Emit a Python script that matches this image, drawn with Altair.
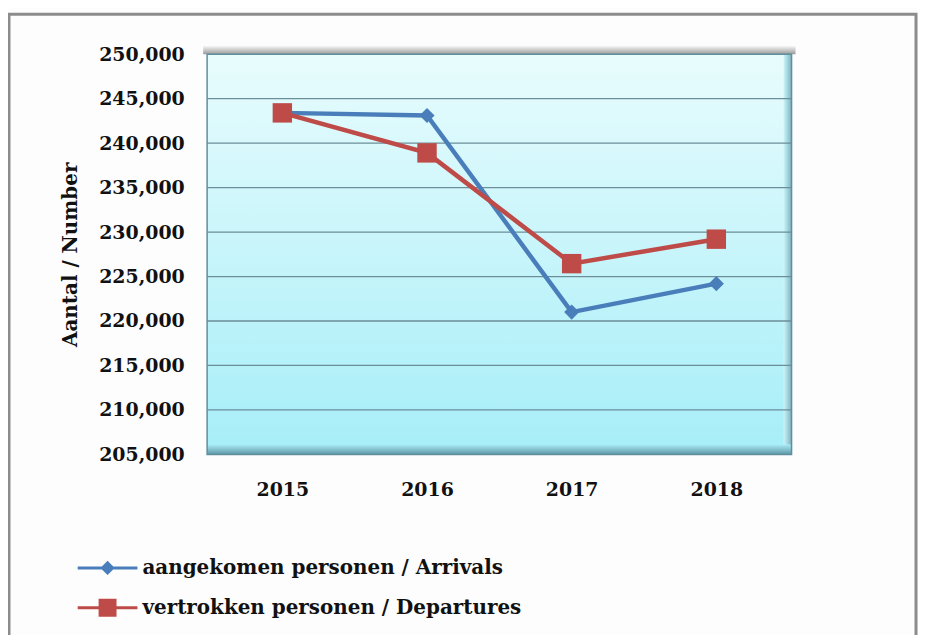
import altair as alt
import pandas as pd

years = ["2015", "2016", "2017", "2018"]
arrivals = [243400, 243100, 221000, 224200]
departures = [243400, 238900, 226450, 229200]
series_names = ["aangekomen personen / Arrivals", "vertrokken personen / Departures"]
y_ticks = [205000, 210000, 215000, 220000, 225000, 230000, 235000, 240000, 245000, 250000]

rows = []
for y, a, d in zip(years, arrivals, departures):
    rows.append({"year": y, "value": a, "series": series_names[0]})
    rows.append({"year": y, "value": d, "series": series_names[1]})
df = pd.DataFrame(rows)
grid_df = pd.DataFrame({"value": y_ticks[1:-1]})

BLUE = "#4a7ebb"
RED = "#be4b48"
FONT = "DejaVu Serif"

W, H = 587, 402

color_scale = alt.Scale(domain=series_names, range=[BLUE, RED])
y_scale = alt.Scale(domain=[205000, 250000], nice=False, zero=False)
x_scale = alt.Scale(type="point", padding=0.52)
legend_paths = [
    "M-1,-0.05H1V0.05H-1Z M-0.24,0L0,-0.24L0.24,0L0,0.24Z",
    "M-1,-0.05H1V0.05H-1Z M-0.3,-0.3H0.3V0.3H-0.3Z",
]

x_enc = alt.X("year:O", sort=years, title=None, scale=x_scale,
              axis=alt.Axis(labelAngle=0, labelFont=FONT, labelFontSize=19, labelFontWeight="bold",
                            labelColor="#111", labelPadding=26, ticks=False, domain=False, grid=False))
y_enc = alt.Y("value:Q", title="Aantal / Number", scale=y_scale,
              axis=alt.Axis(values=y_ticks, format=",d", labelFont=FONT, labelFontSize=19,
                            labelFontWeight="bold", labelColor="#111", labelPadding=23, ticks=False,
                            domain=False, grid=False,
                            titleFont=FONT, titleFontSize=20, titleFontWeight="bold",
                            titleColor="#111", titlePadding=18))

one = pd.DataFrame({"k": [0]})

def grad(c0, c1, vertical=True):
    if vertical:
        return alt.LinearGradient(gradient="linear", x1=0, x2=0, y1=0, y2=1,
                                  stops=[alt.GradientStop(color=c0, offset=0),
                                         alt.GradientStop(color=c1, offset=1)])
    return alt.LinearGradient(gradient="linear", x1=0, x2=1, y1=0, y2=0,
                              stops=[alt.GradientStop(color=c0, offset=0),
                                     alt.GradientStop(color=c1, offset=1)])

frame = alt.Chart(one).mark_rect(
    fill=None, stroke="#8c8c8c", strokeWidth=3
).encode(x=alt.value(-199), x2=alt.value(712), y=alt.value(-40), y2=alt.value(700))

bg = alt.Chart(one).mark_rect(color=grad("#e8fcfd", "#a6eef8")).encode(
    x=alt.value(0), x2=alt.value(W), y=alt.value(0), y2=alt.value(H))

top_shadow = alt.Chart(one).mark_rect(color=grad("#ffffff", "#9a9a9a")).encode(
    x=alt.value(-4), x2=alt.value(W + 4), y=alt.value(-9), y2=alt.value(0))

bottom_bevel = alt.Chart(one).mark_rect(color=grad("#a9ecf6", "#5f97a6")).encode(
    x=alt.value(0), x2=alt.value(W), y=alt.value(H - 10), y2=alt.value(H))

right_bevel = alt.Chart(one).mark_rect(color=grad("#c9f6fb", "#7fb3c0", vertical=False)).encode(
    x=alt.value(W - 8), x2=alt.value(W), y=alt.value(0), y2=alt.value(H - 10))

grid = alt.Chart(grid_df).mark_rule(color="#6b8e98", strokeWidth=1.3).encode(
    y=alt.Y("value:Q", scale=y_scale))

plot_border = alt.Chart(one).mark_rect(
    fill=None, stroke="#5f8f9c", strokeWidth=1.5
).encode(x=alt.value(0), x2=alt.value(W), y=alt.value(0), y2=alt.value(H))

legend_def = alt.Legend(title=None, orient="none", legendX=-130, legendY=486,
                        symbolSize=3600, symbolOpacity=1, symbolStrokeWidth=0,
                        labelFont=FONT, labelFontSize=20, labelFontWeight="bold",
                        labelColor="#111", labelOffset=5, rowPadding=-20,
                        labelLimit=600)

base = alt.Chart(df)

lines = base.mark_line(strokeWidth=4.5).encode(
    x=x_enc, y=y_enc,
    color=alt.Color("series:N", scale=color_scale, legend=legend_def),
    detail="series:N",
)

arr_pts = base.transform_filter(alt.datum.series == series_names[0]).mark_point(
    shape="diamond", filled=True, size=230, opacity=1, color=BLUE
).encode(x=x_enc, y=y_enc)

dep_pts = base.transform_filter(alt.datum.series == series_names[1]).mark_point(
    shape="square", filled=True, size=380, opacity=1, color=RED
).encode(x=x_enc, y=y_enc)

legend_layer = base.mark_point(filled=True, opacity=0).encode(
    x=x_enc, y=y_enc,
    color=alt.Color("series:N", scale=color_scale, legend=legend_def),
    shape=alt.Shape("series:N", scale=alt.Scale(domain=series_names, range=legend_paths),
                    legend=legend_def),
)

chart = alt.layer(
    frame, bg, top_shadow, bottom_bevel, right_bevel, grid, plot_border,
    lines, arr_pts, dep_pts, legend_layer
).properties(
    width=W, height=H,
    padding={"left": 200, "top": 45, "right": 127, "bottom": 180},
    autosize=alt.AutoSizeParams(type="none"),
    background="#fdfdfd",
).configure_view(stroke=None)

chart.save("out.html", embed_options={"renderer": "svg", "actions": False})
